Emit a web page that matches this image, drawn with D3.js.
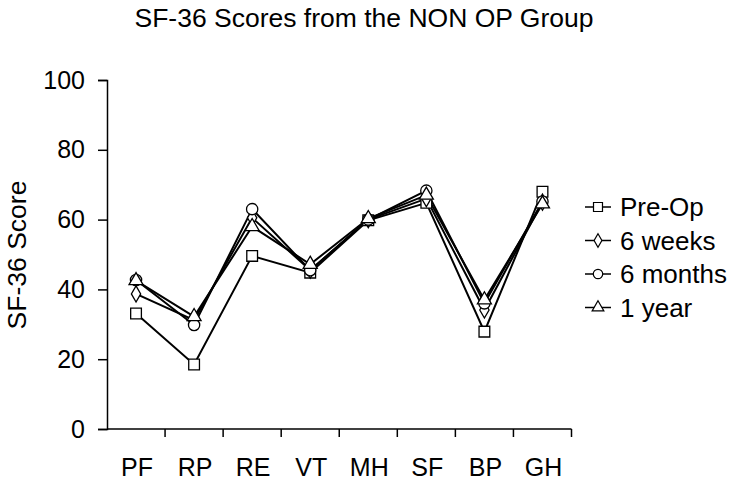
<!DOCTYPE html>
<html>
<head>
<meta charset="utf-8">
<script src="https://cdn.jsdelivr.net/npm/d3@7"></script>
<style>
  body { margin: 0; background: #fff; }
  text { font-family: "Liberation Sans", Arial, sans-serif; fill: #000; }
</style>
</head>
<body>
<div id="chart"></div>
<script>
// categories and series
const categories = ["PF", "RP", "RE", "VT", "MH", "SF", "BP", "GH"]
const preOp    = [33.1, 18.5, 49.6, 44.8, 59.8, 64.8, 27.9, 68.0]
const sixWeeks = [38.7, 31.2, 60.5, 45.5, 60.0, 66.0, 34.1, 65.0]
const sixMonths = [42.7, 29.8, 63.0, 45.5, 60.0, 68.3, 36.0, 65.2]
const oneYear  = [42.5, 32.2, 58.0, 47.2, 60.3, 67.0, 37.0, 64.5]
const yTicks = [0, 20, 40, 60, 80, 100]

const series = [
  { name: "Pre-Op", values: preOp, symbol: "square" },
  { name: "6 weeks", values: sixWeeks, symbol: "diamond" },
  { name: "6 months", values: sixMonths, symbol: "circle" },
  { name: "1 year", values: oneYear, symbol: "triangle" }
]

const width = 733, height = 483
const plotLeft = 107, plotRight = 571.5, plotTop = 80, plotBottom = 429

const svg = d3.select("#chart").append("svg")
    .attr("width", width)
    .attr("height", height)

const x = d3.scaleBand().domain(categories).range([plotLeft, plotRight])
const y = d3.scaleLinear().domain([0, 100]).range([plotBottom, plotTop])

// Title
svg.append("text")
    .attr("x", 364).attr("y", 27)
    .attr("text-anchor", "middle")
    .style("font-size", "26.5px")
    .text("SF-36 Scores from the NON OP Group")

// Y axis
const yAxis = svg.append("g")
    .attr("transform", `translate(${plotLeft},0)`)
    .call(d3.axisLeft(y).tickValues(yTicks).tickSize(9).tickPadding(13))
yAxis.selectAll("text").style("font-size", "25px")

// X axis: ticks at band boundaries
const xAxis = svg.append("g")
    .attr("transform", `translate(0,${plotBottom})`)
xAxis.append("line")
    .attr("x1", plotLeft).attr("x2", plotRight)
    .attr("stroke", "#000").attr("stroke-width", 1.5)
xAxis.selectAll(".bt").data(categories).enter()
    .append("line")
    .attr("x1", d => x(d) + x.bandwidth())
    .attr("x2", d => x(d) + x.bandwidth())
    .attr("y1", 0).attr("y2", 8)
    .attr("stroke", "#000").attr("stroke-width", 1.5)
xAxis.selectAll(".lab").data(categories).enter()
    .append("text")
    .attr("x", d => x(d) + x.bandwidth() / 2 + 1)
    .attr("y", 47)
    .attr("text-anchor", "middle")
    .style("font-size", "25px")
    .text(d => d)

svg.selectAll(".domain, .tick line").attr("stroke", "#000").attr("stroke-width", 1.5)

// Y label
svg.append("text")
    .attr("transform", "translate(26,255) rotate(-90)")
    .attr("text-anchor", "middle")
    .style("font-size", "26.5px")
    .text("SF-36 Score")

const symbolTypes = {
  square: d3.symbolSquare,
  diamond: d3.symbolDiamond,
  circle: d3.symbolCircle,
  triangle: d3.symbolTriangle
}
const symbolSize = { square: 115, diamond: 75, circle: 100, triangle: 85 }

const line = d3.line()
    .x((d, i) => x(categories[i]) + x.bandwidth() / 2)
    .y(d => y(d))

// Lines first, then markers
series.forEach(s => {
  svg.append("path")
      .datum(s.values)
      .attr("d", line)
      .attr("fill", "none")
      .attr("stroke", "#000")
      .attr("stroke-width", 2)
})
series.forEach(s => {
  svg.append("g").selectAll("path").data(s.values).enter()
    .append("path")
      .attr("transform", (d, i) => `translate(${x(categories[i]) + x.bandwidth() / 2},${y(d)})`)
      .attr("d", d3.symbol().type(symbolTypes[s.symbol]).size(symbolSize[s.symbol]))
      .attr("fill", "#fff")
      .attr("stroke", "#000")
      .attr("stroke-width", 1.3)
})

// Legend
const legend = svg.append("g").attr("transform", "translate(585,207)")
series.forEach((s, i) => {
  const g = legend.append("g").attr("transform", `translate(0,${i * 33.5})`)
  g.append("line")
      .attr("x1", 0).attr("x2", 26)
      .attr("stroke", "#000").attr("stroke-width", 1.5)
  g.append("path")
      .attr("transform", "translate(13,0)")
      .attr("d", d3.symbol().type(symbolTypes[s.symbol]).size(symbolSize[s.symbol] * 0.7))
      .attr("fill", "#fff")
      .attr("stroke", "#000")
      .attr("stroke-width", 1.2)
  g.append("text")
      .attr("x", 35).attr("y", 9)
      .style("font-size", "26px")
      .text(s.name)
})
</script>
</body>
</html>
